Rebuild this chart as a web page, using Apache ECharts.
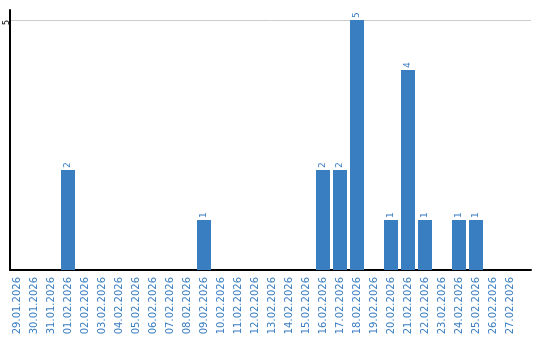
<!DOCTYPE html>
<html>
<head>
<meta charset="utf-8">
<script src="https://cdn.jsdelivr.net/npm/echarts@6/dist/echarts.min.js"></script>
<style>html,body{margin:0;padding:0;background:#fff}#c{width:540px;height:340px}</style>
</head>
<body>
<div id="c"></div>
<script>
var categories = ['29.01.2026','30.01.2026','31.01.2026','01.02.2026','02.02.2026','03.02.2026','04.02.2026','05.02.2026','06.02.2026','07.02.2026','08.02.2026','09.02.2026','10.02.2026','11.02.2026','12.02.2026','13.02.2026','14.02.2026','15.02.2026','16.02.2026','17.02.2026','18.02.2026','19.02.2026','20.02.2026','21.02.2026','22.02.2026','23.02.2026','24.02.2026','25.02.2026','26.02.2026','27.02.2026'];
var counts = [0,0,0,2,0,0,0,0,0,0,0,1,0,0,0,0,0,0,2,2,5,0,1,4,1,0,1,1,0,0];
var yMax = 5.2;
var yTick = 5;

var blue = '#3a7ec2';
var chart = echarts.init(document.getElementById('c'));
chart.setOption({
  animation: false,
  grid: [
    {left: 10, top: 10, width: 521, height: 260},
    {left: 8.5, top: 10, width: 510, height: 260}
  ],
  xAxis: [
    {gridIndex: 0, type: 'value', min: 0, max: 1, axisLine: {show: true, onZero: false, lineStyle: {color: '#000', width: 2}}, axisTick: {show: false}, axisLabel: {show: false}, splitLine: {show: false}},
    {gridIndex: 1, type: 'category', data: categories, axisLine: {show: false}, axisTick: {show: false},
      axisLabel: {rotate: 90, interval: 0, margin: 7, color: blue, fontFamily: 'DejaVu Sans', fontSize: 10}}
  ],
  yAxis: [
    {gridIndex: 0, type: 'value', min: 0, max: yMax, interval: yTick,
      axisLine: {show: true, lineStyle: {color: '#000', width: 2}}, axisTick: {show: false},
      axisLabel: {rotate: 90, margin: 3, color: '#000', fontFamily: 'DejaVu Sans', fontSize: 8, showMinLabel: false, showMaxLabel: false,
        align: 'right', verticalAlign: 'middle',
        formatter: function (v) { return v === yTick ? String(v) : ''; }},
      splitLine: {show: true, showMinLine: false, showMaxLine: false, lineStyle: {color: '#cccccc', width: 1}}},
    {gridIndex: 1, type: 'value', min: 0, max: yMax, show: false}
  ],
  series: [{
    type: 'bar', xAxisIndex: 1, yAxisIndex: 1, data: counts, barWidth: 14,
    itemStyle: {color: blue},
    label: {show: true, position: 'top', rotate: 90, align: 'left', verticalAlign: 'middle', distance: 2,
      color: blue, fontFamily: 'DejaVu Sans', fontSize: 9,
      formatter: function (p) { return p.value ? String(p.value) : ''; }}
  }]
});
</script>
</body>
</html>
